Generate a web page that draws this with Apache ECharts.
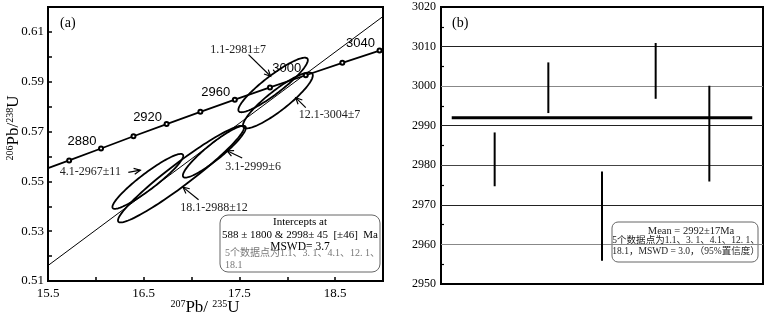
<!DOCTYPE html>
<html>
<head>
<meta charset="utf-8">
<script src="https://cdn.jsdelivr.net/npm/echarts@6/dist/echarts.min.js"></script>
<style>html,body{margin:0;padding:0;background:#fff}#c{width:769px;height:318px}</style>
</head>
<body>
<div id="c"></div>
<script>
// ====== (a) 谐和图 ======
const concAges = [2860, 2880, 2900, 2920, 2940, 2960, 2980, 3000, 3020, 3040];
const concX = [15.721, 16.054, 16.393, 16.739, 17.092, 17.452, 17.819, 18.193, 18.575, 18.964];
const concY = [0.5584, 0.5632, 0.5681, 0.5730, 0.5779, 0.5828, 0.5877, 0.5926, 0.5976, 0.6025];
const concStart = [15.5, 0.5553];
const ageLabels = [2880, 2920, 2960, 3000, 3040];
const discX = [15.5, 19.0];
const discY = [0.5162, 0.6162];

// 測點：中心、2σ 誤差、相關係數
const spotNames = ['1.1', '3.1', '4.1', '12.1', '18.1'];
const spotAges = [2981, 2999, 2967, 3004, 2988];
const spotErr = [7, 6, 11, 7, 12];
const ellX = [17.852, 17.238, 16.543, 17.902, 16.889];
const ellY = [0.5887, 0.5619, 0.5500, 0.5825, 0.5529];
const ellSx = [0.363, 0.329, 0.370, 0.365, 0.658];
const ellSy = [0.01095, 0.0104, 0.01103, 0.01123, 0.0194];
const ellRho = [0.911, 0.92, 0.931, 0.894, 0.958];

// 註記：文字起點、箭頭尾 → 箭頭尖
const noteX = [17.196, 17.353, 15.623, 18.119, 16.881];
const noteY = [0.6026, 0.5557, 0.5537, 0.5768, 0.5394];
const arrowFromX = [17.595, 17.529, 16.339, 18.193, 17.073];
const arrowFromY = [0.6009, 0.5594, 0.5536, 0.5796, 0.5426];
const arrowToX = [17.826, 17.371, 16.465, 18.088, 16.910];
const arrowToY = [0.5922, 0.5623, 0.5545, 0.5836, 0.5477];

// ====== (b) 加權平均 ======
const barPos = [1, 2, 3, 4, 5];
const barLow = [2974.7, 2993.2, 2955.9, 2996.8, 2975.9];
const barHigh = [2988.3, 3006.0, 2978.4, 3010.9, 3000.1];
const meanAge = 2992;
const meanFrom = 0.2, meanTo = 5.8;

const SERIF = "'Liberation Serif','Noto Sans CJK SC',serif";
const SANS = "'Liberation Sans',Arial,sans-serif";

function ellipseItem(params, api){
  const cx = api.value(0), cy = api.value(1), sx = api.value(2), sy = api.value(3), r = api.value(4);
  const k = Math.sqrt(1 - r * r);
  const pts = [];
  for(let i = 0; i < 120; i++){
    const t = i / 120 * Math.PI * 2;
    pts.push(api.coord([cx + sx * Math.cos(t), cy + sy * (r * Math.cos(t) + k * Math.sin(t))]));
  }
  return { type:'polygon', shape:{ points: pts }, style:{ fill:'none', stroke:'#000', lineWidth:1.8 } };
}

function arrowItem(params, api){
  const a = api.coord([api.value(0), api.value(1)]);
  const b = api.coord([api.value(2), api.value(3)]);
  const ang = Math.atan2(b[1] - a[1], b[0] - a[0]);
  const h = 7, w = 0.45;
  const p1 = [b[0] - h * Math.cos(ang - w), b[1] - h * Math.sin(ang - w)];
  const p2 = [b[0] - h * Math.cos(ang + w), b[1] - h * Math.sin(ang + w)];
  return { type:'group', children:[
    { type:'line', shape:{ x1:a[0], y1:a[1], x2:b[0], y2:b[1] }, style:{ stroke:'#000', lineWidth:1.2 } },
    { type:'polyline', shape:{ points:[p1, b, p2] }, style:{ stroke:'#000', fill:'none', lineWidth:1.2 } }
  ]};
}

function noteItem(params, api){
  const p = api.coord([api.value(0), api.value(1)]);
  const i = params.dataIndex;
  return { type:'text', x:p[0], y:p[1], style:{
    text: spotNames[i] + '-' + spotAges[i] + '±' + spotErr[i],
    font: '12px ' + SERIF, fill:'#222', align:'left', verticalAlign:'middle'
  }};
}

function barItem(params, api){
  const a = api.coord([api.value(0), api.value(1)]);
  const b = api.coord([api.value(0), api.value(2)]);
  return { type:'line', shape:{ x1:a[0], y1:a[1], x2:b[0], y2:b[1] }, style:{ stroke:'#000', lineWidth:2 } };
}

const concData = [{ value:[concStart[0], concStart[1], ''], symbol:'none' }]
  .concat(concAges.map((a, i) => [concX[i], concY[i], a]));

const chart = echarts.init(document.getElementById('c'));
chart.setOption({
  animation:false,
  grid:[
    { left:48, top:7, width:335, height:274, show:true, borderColor:'#000', borderWidth:2, backgroundColor:'transparent' },
    { left:441, top:7, width:322, height:277, show:true, borderColor:'#000', borderWidth:2, backgroundColor:'transparent' }
  ],
  xAxis:[
    { gridIndex:0, type:'value', min:15.5, max:19, interval:0.5,
      axisLine:{ show:false }, splitLine:{ show:false },
      axisTick:{ show:true, inside:true, length:4, lineStyle:{ color:'#000', width:1.5 } },
      axisLabel:{ showMinLabel:true, showMaxLabel:true, margin:6, color:'#000', fontSize:13, fontFamily:SERIF,
        formatter: v => (Math.round(v * 2) % 2 === 1) ? v.toFixed(1) : '' } },
    { gridIndex:1, type:'value', min:0, max:6, show:false }
  ],
  yAxis:[
    { gridIndex:0, type:'value', min:0.51, max:0.62, interval:0.01,
      axisLine:{ show:false }, splitLine:{ show:false },
      axisTick:{ show:true, inside:true, length:4, lineStyle:{ color:'#000', width:1.5 } },
      axisLabel:{ showMinLabel:true, showMaxLabel:true, margin:4, color:'#000', fontSize:13, fontFamily:SERIF,
        formatter: v => (Math.round(v * 100) % 2 === 1) ? v.toFixed(2) : '' } },
    { gridIndex:1, type:'value', min:2950, max:3020, interval:10,
      axisLine:{ show:false },
      axisTick:{ show:false, inside:true },
      minorTick:{ show:true, splitNumber:2, length:3, lineStyle:{ color:'#000', width:1.2 } },
      splitLine:{ show:true, lineStyle:{ width:1, color:['#000','#888','#222','#444','#222','#888','#222','#000'] } },
      axisLabel:{ showMinLabel:true, showMaxLabel:true, margin:5, color:'#000', fontSize:12, fontFamily:SERIF,
        formatter: v => String(v) } }
  ],
  series:[
    { type:'line', xAxisIndex:0, yAxisIndex:0, data: discX.map((x, i) => [x, discY[i]]),
      symbol:'none', lineStyle:{ color:'#000', width:1 }, silent:true },
    { type:'custom', xAxisIndex:0, yAxisIndex:0, renderItem: ellipseItem, encode:{ x:0, y:1 },
      data: ellX.map((x, i) => [x, ellY[i], ellSx[i], ellSy[i], ellRho[i]]), silent:true },
    { type:'line', xAxisIndex:0, yAxisIndex:0, data: concData,
      symbol:'emptyCircle', symbolSize:4, lineStyle:{ color:'#000', width:1.8 },
      itemStyle:{ color:'#000', borderWidth:1 },
      label:{ show:true, position:'inside', offset:[-19, -7], color:'#000', fontSize:13, fontFamily:SANS,
        formatter: p => ageLabels.includes(p.value[2]) ? String(p.value[2]) : '' },
      silent:true },
    { type:'custom', xAxisIndex:0, yAxisIndex:0, renderItem: arrowItem, encode:{ x:[0, 2], y:[1, 3] },
      data: arrowFromX.map((x, i) => [x, arrowFromY[i], arrowToX[i], arrowToY[i]]), silent:true },
    { type:'custom', xAxisIndex:0, yAxisIndex:0, renderItem: noteItem, encode:{ x:0, y:1 },
      data: noteX.map((x, i) => [x, noteY[i]]), silent:true },

    { type:'custom', xAxisIndex:1, yAxisIndex:1, renderItem: barItem, encode:{ x:0, y:[1, 2] },
      data: barPos.map((x, i) => [x, barLow[i], barHigh[i]]), silent:true },
    { type:'line', xAxisIndex:1, yAxisIndex:1, data:[[meanFrom, meanAge], [meanTo, meanAge]],
      symbol:'none', lineStyle:{ color:'#000', width:3 }, silent:true }
  ],
  graphic:[
    { type:'text', x:60, y:23, style:{ text:'(a)', font:'14px ' + SERIF, fill:'#000', verticalAlign:'middle' } },
    { type:'text', x:452, y:23, style:{ text:'(b)', font:'14px ' + SERIF, fill:'#000', verticalAlign:'middle' } },
    { type:'text', x:14, y:128, rotation:Math.PI / 2,
      style:{ text:'{s|206}{m|Pb/}{s|238}{m|U}', align:'center', verticalAlign:'middle',
        rich:{ s:{ fontSize:10, fontFamily:SERIF, verticalAlign:'top', fill:'#000' },
               m:{ fontSize:17, fontFamily:SERIF, fill:'#000' } } } },
    { type:'text', x:205, y:308,
      style:{ text:'{s|207}{m|Pb/ }{s|235}{m|U}', align:'center', verticalAlign:'middle',
        rich:{ s:{ fontSize:10, fontFamily:SERIF, verticalAlign:'top', fill:'#000' },
               m:{ fontSize:17, fontFamily:SERIF, fill:'#000' } } } },
    { type:'group', children:[
      { type:'rect', shape:{ x:220, y:215, width:160, height:57, r:8 }, style:{ fill:'#fff', stroke:'#666', lineWidth:1 } },
      { type:'text', x:300, y:222, style:{ text:'Intercepts at', font:'11px ' + SERIF, fill:'#000', align:'center', verticalAlign:'middle' } },
      { type:'text', x:300, y:235, style:{ text:'588 ± 1800 & 2998± 45  [±46]  Ma', font:'11px ' + SERIF, fill:'#000', align:'center', verticalAlign:'middle' } },
      { type:'text', x:300, y:247, style:{ text:'MSWD= 3.7', font:'11.5px ' + SERIF, fill:'#000', align:'center', verticalAlign:'middle' } },
      { type:'text', x:225, y:253, style:{ text:'5个数据点为1.1、3. 1、4.1、12. 1、', font:'10px ' + SERIF, fill:'#777', verticalAlign:'middle' } },
      { type:'text', x:225, y:265, style:{ text:'18.1', font:'10px ' + SERIF, fill:'#777', verticalAlign:'middle' } }
    ]},
    { type:'group', children:[
      { type:'rect', shape:{ x:612, y:222, width:146, height:40, r:6 }, style:{ fill:'#fff', stroke:'#666', lineWidth:1 } },
      { type:'text', x:691, y:231, style:{ text:'Mean = 2992±17Ma', font:'10.5px ' + SERIF, fill:'#222', align:'center', verticalAlign:'middle' } },
      { type:'text', x:686, y:240.5, style:{ text:'5个数据点为1.1、3. 1、4.1、12. 1、', font:'9.5px ' + SERIF, fill:'#222', align:'center', verticalAlign:'middle' } },
      { type:'text', x:686, y:251, style:{ text:'18.1，MSWD = 3.0，（95%置信度）', font:'9.5px ' + SERIF, fill:'#222', align:'center', verticalAlign:'middle' } }
    ]}
  ]
});
</script>
</body>
</html>
